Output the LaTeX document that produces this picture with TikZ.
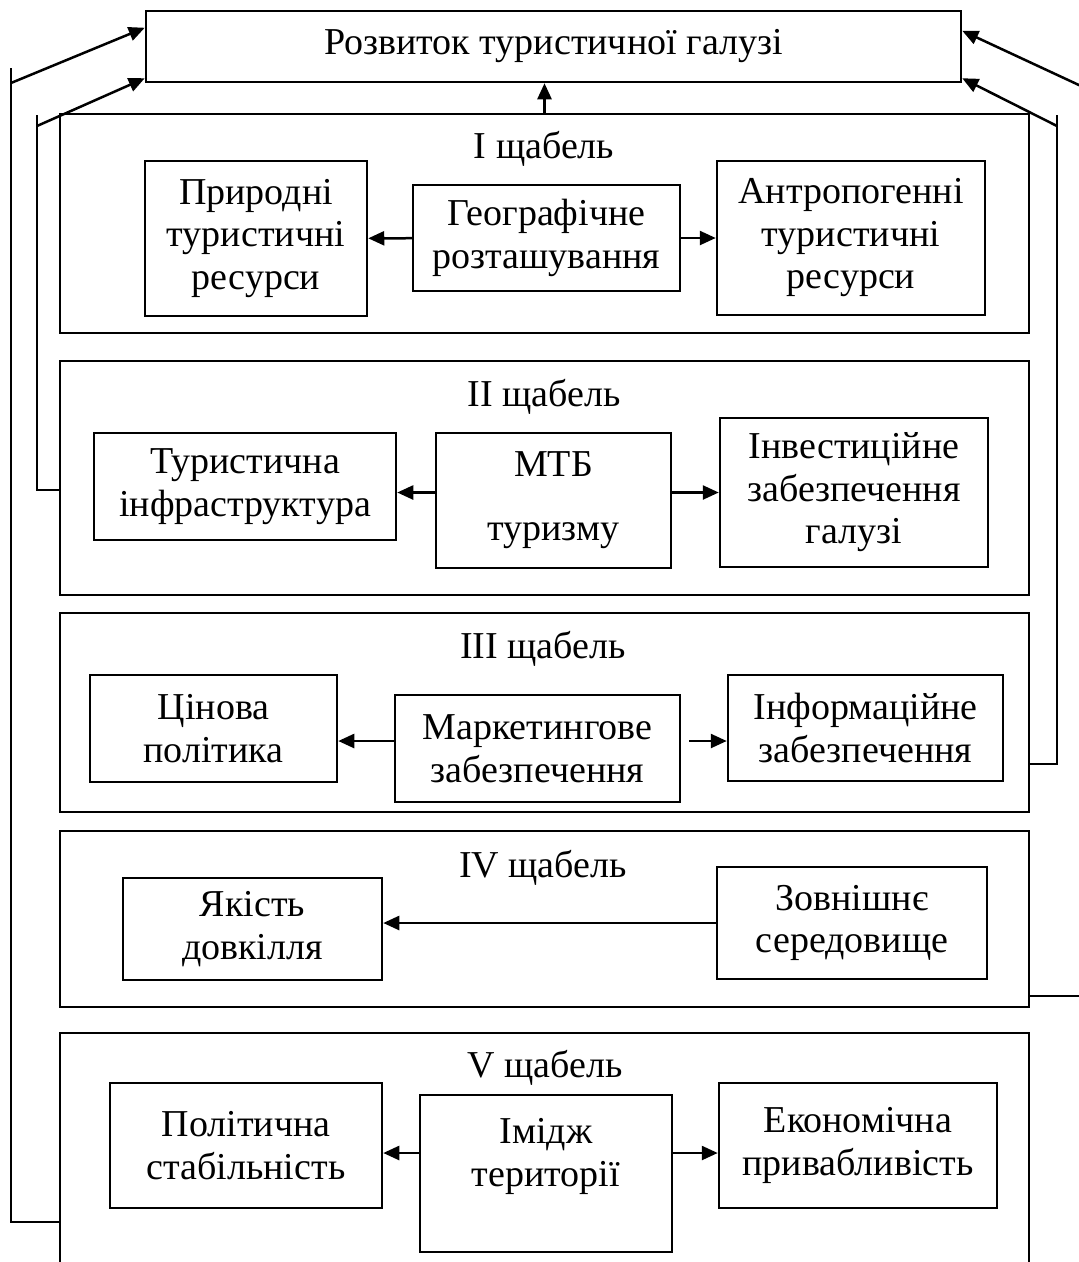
\documentclass[tikz,border=0pt]{standalone}
\usepackage{fontspec}
\setmainfont{Liberation Serif}
\usetikzlibrary{arrows.meta}
\usetikzlibrary{calc}
\newcommand{\FactorNode}[5]{\node[factor, minimum width=#4, minimum height=#5] (#1) at (#2) {#3};}
\newcommand{\StageFrame}[3]{\node[stageframe, minimum height=#3] (#1) at (544.5,#2) {};}

\begin{document}
\begin{tikzpicture}[
    x=1pt, y=-1pt,
    >={Triangle[length=16pt,width=14pt]},
    line width=2.5pt,
    font=\fontsize{38}{42.5}\selectfont,
    factor/.style={draw, align=center, inner sep=0pt},
    stageframe/.style={draw, inner sep=0pt, minimum width=969},
    ]

    \useasboundingbox (0,0) rectangle (1079,1262);

    \node[factor, minimum width=815, minimum height=71] (title) at (553.5,46.5) {Розвиток туристичної галузі};

    \StageFrame{stageI}{223.5}{219}
    \StageFrame{stageII}{478}{234}
    \StageFrame{stageIII}{712.5}{199}
    \StageFrame{stageIV}{919}{176}
    \StageFrame{stageV}{1166.5}{267}

    \node (labelI)   at (544,149)  {I щабель};
    \node (labelII)  at (544,397)  {II щабель};
    \node (labelIII) at (543,649)  {III щабель};
    \node (labelIV)  at (543,868)  {IV щабель};
    \node (labelV)   at (545,1068) {V щабель};

    \FactorNode{pryr}{256,238.5}{Природні\\туристичні\\ресурси}{222}{155}
    \FactorNode{geo}{546.5,238}{Географічне\\розташування}{267}{106}
    \FactorNode{antr}{851,238}{Антропогенні\\туристичні\\ресурси}{268}{154}

    \FactorNode{infra}{245,486.5}{Туристична\\інфраструктура}{302}{107}
    \FactorNode{mtb}{553.5,500.5}{МТБ\\[21.5pt]туризму}{235}{135}
    \FactorNode{invest}{854,492.5}{Інвестиційне\\забезпечення\\галузі}{268}{149}

    \FactorNode{price}{213.5,728.5}{Цінова\\політика}{247}{107}
    \FactorNode{market}{537.5,748.5}{Маркетингове\\забезпечення}{285}{107}
    \FactorNode{info}{865.5,728}{Інформаційне\\забезпечення}{275}{106}

    \FactorNode{quality}{252.5,929}{Якість\\довкілля}{259}{102}
    \FactorNode{extern}{852,923}{Зовнішнє\\середовище}{270}{112}

    \FactorNode{polit}{246,1145.5}{Політична\\стабільність}{272}{125}
    \FactorNode{image}{546,1173.5}{Імідж\\території\\\mbox{}}{252}{157}
    \FactorNode{econ}{858,1145.5}{Економічна\\привабливість}{278}{125}

    \coordinate (marketL) at ([yshift=7.5pt]market.west);
    \coordinate (marketR) at ([yshift=7.5pt]market.east);
    \coordinate (imageL) at ([yshift=20.5pt]image.west);
    \coordinate (imageR) at ([yshift=20.5pt]image.east);

    \coordinate (outL)     at (11,68);
    \coordinate (outLjoin) at (11,83);
    \coordinate (outLend)  at (11,1222);
    \coordinate (inL)      at (37,115);
    \coordinate (inLjoin)  at (37,126);
    \coordinate (inLend)   at (37,490);
    \coordinate (inR)      at (1057,115);
    \coordinate (inRjoin)  at (1057,126);
    \coordinate (inRend)   at (1057,764);
    \coordinate (outR)     at (1081,68);
    \coordinate (outRjoin) at (1081,86);
    \coordinate (outRend)  at (1081,996);

    \coordinate (titleTL) at ($(title.north west)+(0,18)$);
    \coordinate (titleBL) at ($(title.south west)+(0,-5)$);
    \coordinate (titleBR) at ($(title.south east)+(0,-5)$);
    \coordinate (titleTR) at ($(title.north east)+(0,21)$);

    \draw (outL) -- (outLend) -- (stageV.west |- outLend);
    \draw (inL) -- (inLend) -- (stageII.west |- inLend);
    \draw (inR) -- (inRend) -- (stageIII.east |- inRend);
    \draw (outR) -- (outRend) -- (stageIV.east |- outRend);

    \path[
    ->,
    ]
    (geo) edge (pryr)
          edge (antr)
    (mtb.west |- invest.west) edge (infra.east |- invest.west)
    (mtb.east |- invest.west) edge (invest.west)
    (marketL) edge (marketL -| price.east)
    (marketR) edge[shorten <=8pt] (marketR -| info.west)
    (extern.west) edge (extern.west -| quality.east)
    (imageL) edge (imageL -| polit.east)
    (imageR) edge (imageR -| econ.west)
    (stageI.north) edge (stageI.north |- title.south)
    (outLjoin) edge (titleTL)
    (inLjoin)  edge (titleBL)
    (inRjoin)  edge (titleBR)
    (outRjoin) edge (titleTR);

\end{tikzpicture}
\end{document}
